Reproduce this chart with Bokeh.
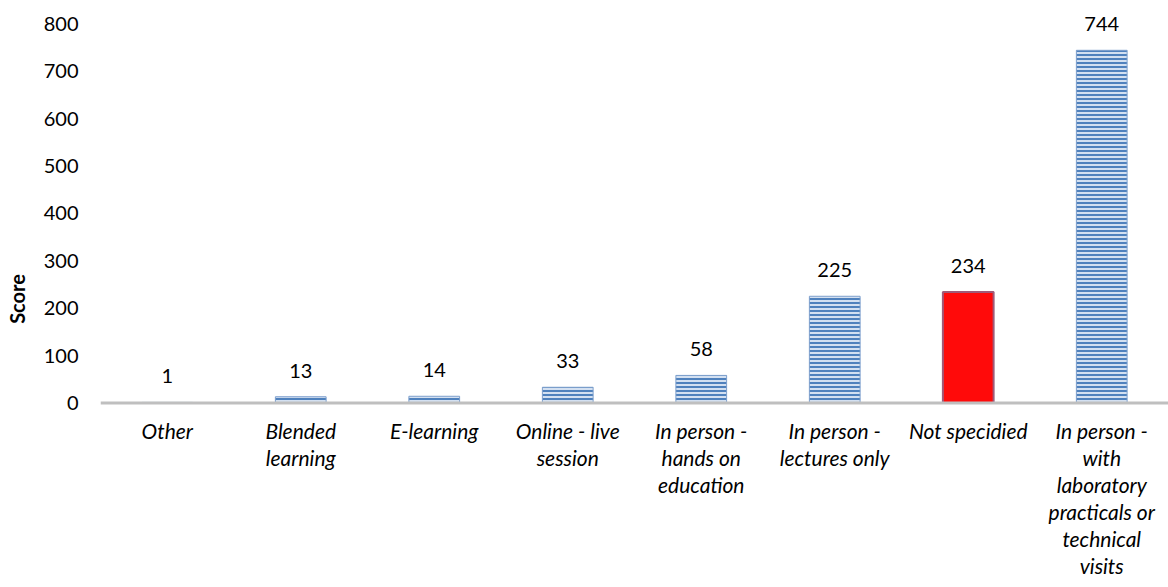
from bokeh.plotting import figure
from bokeh.models import ColumnDataSource, Range1d, FixedTicker, Span
from bokeh.core.properties import value
from bokeh.embed import file_html
from bokeh.resources import INLINE

categories = ["Other", "Blended learning", "E-learning", "Online - live session",
              "In person - hands on education", "In person - lectures only",
              "Not specidied", "In person - with laboratory practicals or technical visits"]
tick_labels = ["Other", "Blended\nlearning", "E-learning", "Online - live\nsession",
               "In person -\nhands on\neducation", "In person -\nlectures only",
               "Not specidied", "In person -\nwith\nlaboratory\npracticals or\ntechnical\nvisits"]
scores = [1, 13, 14, 33, 58, 225, 234, 744]
highlight = [False, False, False, False, False, False, True, False]
y_ticks = [0, 100, 200, 300, 400, 500, 600, 700, 800]

FONT = "Lato"

fill = ["#ff0a0a" if h else "#d3e0f1" for h in highlight]
hatch = ["blank" if h else "horizontal_line" for h in highlight]
line_col = ["#a05a78" if h else "#7d9fcc" for h in highlight]
line_w = [2 if h else 1 for h in highlight]

src = ColumnDataSource(dict(cat=categories, score=scores, fill=fill, hatch=hatch,
                            line_col=line_col, line_w=line_w,
                            label=[str(s) for s in scores], tick=tick_labels,
                            zero=[0] * len(scores)))

p = figure(width=1168, height=587, x_range=categories, y_range=Range1d(-389.5, 828),
           output_backend="svg", toolbar_location=None, x_axis_location=None,
           min_border_left=100, min_border_right=0, min_border_top=10, min_border_bottom=0)
p.outline_line_color = None
p.xgrid.visible = False
p.ygrid.visible = False

p.vbar(x="cat", top="score", bottom=0, width=0.38, source=src,
       fill_color="fill", line_color="line_col", line_width="line_w",
       hatch_pattern="hatch", hatch_color="#4f81bd", hatch_scale=4, hatch_weight=2)

p.add_layout(Span(location=0, dimension="width", line_color="#bfbfbf", line_width=3))

p.text(x="cat", y="score", text="label", source=src, text_align="center",
       text_baseline="middle", y_offset=-26, text_font=value(FONT),
       text_font_size="20px", text_color="#000000")

p.text(x="cat", y="zero", text="tick", source=src, text_align="center",
       text_baseline="top", y_offset=15, text_font=value(FONT),
       text_font_size="21px", text_font_style="italic", text_color="#000000",
       text_line_height=1.08)

ax = p.yaxis[0]
ax.ticker = FixedTicker(ticks=y_ticks)
ax.axis_line_color = None
ax.major_tick_line_color = None
ax.minor_tick_line_color = None
ax.major_label_standoff = 16
ax.major_label_text_font = FONT
ax.major_label_text_font_size = "20px"
ax.major_label_text_color = "#000000"
ax.axis_label = "Score"
ax.axis_label_text_font = FONT
ax.axis_label_text_font_size = "20px"
ax.axis_label_text_font_style = "bold"
ax.axis_label_text_color = "#000000"
ax.axis_label_standoff = 12

open("out.html", "w").write(file_html(p, INLINE))
